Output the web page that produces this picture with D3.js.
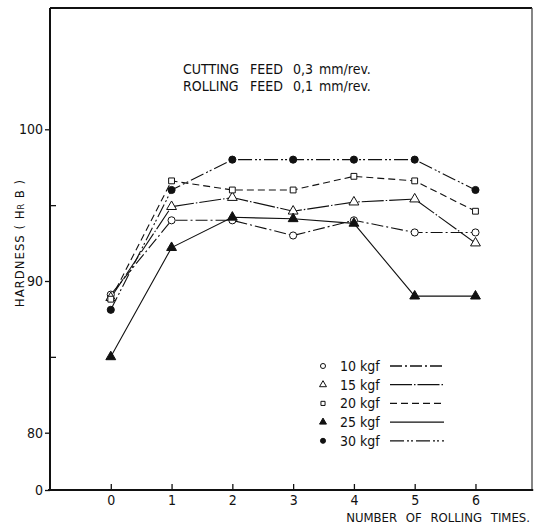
<!DOCTYPE html>
<html>
<head>
<meta charset="utf-8" />
<title>Hardness vs rolling times</title>
<script src="https://d3js.org/d3.v7.min.js"></script>
<style>
  body { margin: 0; background: #fff; }
  svg text { font-family: "DejaVu Sans Condensed", "Liberation Sans Narrow", sans-serif; fill: #111; }
  .axis path { display: none; }
  .axis line { stroke: #111; stroke-width: 1.3px; }
  .series { fill: none; stroke: #111; stroke-width: 1.1px; }
</style>
</head>
<body>
<script>
// values
const rollings = [0, 1, 2, 3, 4, 5, 6];
const hard10 = [89.1, 94.0, 94.0, 93.0, 94.0, 93.2, 93.2];
const hard15 = [88.9, 94.9, 95.5, 94.6, 95.2, 95.4, 92.5];
const hard20 = [88.8, 96.6, 96.0, 96.0, 96.9, 96.6, 94.6];
const hard25 = [85.0, 92.2, 94.2, 94.1, 93.8, 89.0, 89.0];
const hard30 = [88.1, 96.0, 98.0, 98.0, 98.0, 98.0, 96.0];
const loadNames = ["10 kgf", "15 kgf", "20 kgf", "25 kgf", "30 kgf"];
const yMajorTicks = [0, 80, 90, 100];
const yMinorTicks = [85, 95];
const xTicks = [0, 1, 2, 3, 4, 5, 6];

const W = 538, H = 525;
const svg = d3.select("body").append("svg").attr("width", W).attr("height", H);

// broken y axis: 0 sits right at the bottom, 80..100 linear
const x = d3.scaleLinear().domain([-1, 6.93]).range([50, 532]);
const y = d3.scaleLinear().domain([0, 80, 100]).range([490, 432.7, 129.3]);
const yTop = 8;

const styles = [
  { sym: d3.symbolCircle, size: 40, fill: "#fff", dash: "12,3,2,3" },
  { sym: d3.symbolTriangle, size: 42, fill: "#fff", dash: "22,2,1.5,2" },
  { sym: d3.symbolSquare, size: 34, fill: "#fff", dash: "7,4" },
  { sym: d3.symbolTriangle, size: 42, fill: "#111", dash: null },
  { sym: d3.symbolCircle, size: 40, fill: "#111", dash: "14,3,2,2,2,3" }
];
const allSeries = [hard10, hard15, hard20, hard25, hard30];

// frame
const frame = svg.append("g").attr("stroke", "#111").attr("fill", "none");
frame.append("line").attr("x1", x(-1)).attr("x2", x(6.93)).attr("y1", yTop).attr("y2", yTop).attr("stroke-width", 2);
frame.append("line").attr("x1", x(-1)).attr("x2", x(-1)).attr("y1", yTop).attr("y2", y(0)).attr("stroke-width", 2);
frame.append("line").attr("x1", x(6.93)).attr("x2", x(6.93)).attr("y1", yTop).attr("y2", y(0)).attr("stroke-width", 1.3).attr("stroke", "#444");
frame.append("line").attr("x1", x(-1) - 2).attr("x2", x(6.95)).attr("y1", y(0)).attr("y2", y(0)).attr("stroke-width", 2);

// y axis
svg.append("g").attr("class", "axis").attr("transform", `translate(${x(-1)},0)`)
  .call(d3.axisLeft(y).tickValues(yMajorTicks).tickSize(5).tickPadding(2).tickFormat(d3.format("d")))
  .selectAll("text").style("font-size", "14px");
svg.append("g").attr("class", "axis").attr("transform", `translate(${x(-1)},0)`)
  .call(d3.axisLeft(y).tickValues(yMinorTicks).tickSize(-6).tickFormat(""));

// x axis
svg.append("g").attr("class", "axis").attr("transform", `translate(0,${y(0)})`)
  .call(d3.axisBottom(x).tickValues(xTicks).tickSize(-6).tickPadding(5))
  .selectAll("text").style("font-size", "14px");

// axis titles
svg.append("text").attr("x", 530).attr("y", 522).attr("text-anchor", "end")
  .style("font-size", "13px").style("word-spacing", "5px").text("NUMBER OF ROLLING TIMES.");
const yt = svg.append("text").attr("transform", "translate(24,243) rotate(-90)")
  .attr("text-anchor", "middle").style("font-size", "13px").style("letter-spacing", "1px");
yt.append("tspan").text("HARDNESS  ( H");
yt.append("tspan").style("font-size", "9px").text("R");
yt.append("tspan").text("  B )");

// annotation
const note = svg.append("g").style("font-size", "14px");
[["CUTTING", "0,3 mm/rev.", 74], ["ROLLING", "0,1 mm/rev.", 91]].forEach(r => {
  note.append("text").attr("x", 183).attr("y", r[2]).text(r[0]);
  note.append("text").attr("x", 250).attr("y", r[2]).text("FEED");
  note.append("text").attr("x", 293).attr("y", r[2]).style("word-spacing", "2px").text(r[1]);
});

// series
const line = d3.line().x((d, i) => x(rollings[i])).y(d => y(d));
allSeries.forEach((vals, k) => {
  const st = styles[k];
  svg.append("path").datum(vals).attr("class", "series")
    .attr("stroke-dasharray", st.dash).attr("d", line);
});
allSeries.forEach((vals, k) => {
  const st = styles[k];
  svg.append("g").selectAll("path").data(vals).join("path")
    .attr("transform", (d, i) => `translate(${x(rollings[i])},${y(d)})`)
    .attr("d", d3.symbol(st.sym, st.size))
    .attr("fill", st.fill).attr("stroke", "#111").attr("stroke-width", 1);
});

// legend
const leg = svg.append("g").attr("transform", "translate(323,366)");
loadNames.forEach((name, k) => {
  const st = styles[k];
  const row = leg.append("g").attr("transform", `translate(0,${k * 18.7})`);
  row.append("path").attr("d", d3.symbol(st.sym, st.size * 0.5))
    .attr("fill", st.fill).attr("stroke", "#111").attr("stroke-width", 1);
  row.append("text").attr("x", 17).attr("y", 5).style("font-size", "14px").text(name);
  row.append("line").attr("x1", 67).attr("x2", 121).attr("y1", 0).attr("y2", 0)
    .attr("stroke", "#111").attr("stroke-width", 1.3).attr("stroke-dasharray", st.dash);
});
</script>
</body>
</html>
